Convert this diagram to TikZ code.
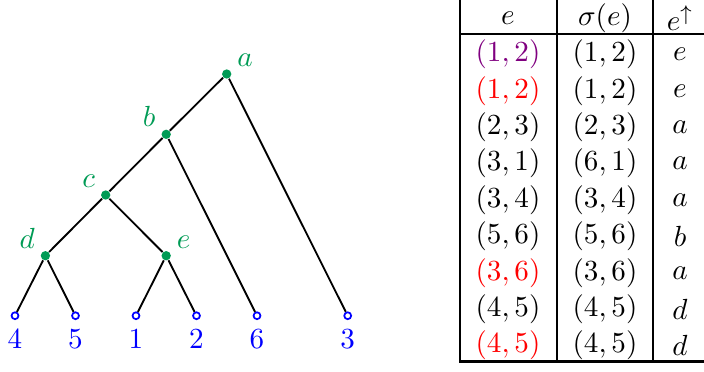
\documentclass[tikz,border=0pt]{standalone}
\usepackage{amsmath,amssymb}
\usepackage{xcolor}
\usepackage{tikz}
\usetikzlibrary{positioning}
\definecolor{treegreen}{RGB}{0,155,85}
\definecolor{leafblue}{RGB}{0,0,255}
\definecolor{swappurple}{RGB}{128,0,128}
\definecolor{badred}{RGB}{255,0,0}

\begin{document}
\begin{tikzpicture}[
  x=0.01322cm, y=-0.01322cm,
  font=\fontsize{11}{13}\selectfont,
  inner/.style={circle, fill=treegreen, inner sep=0pt, minimum size=3.5pt},
  leaf/.style={circle, draw=leafblue, line width=0.65pt, inner sep=0pt, minimum size=2.6pt},
  glabel/.style={text=treegreen, inner sep=2pt},
  blabel/.style={text=leafblue},
  branch/.style={line width=0.7pt, black},
  rule/.style={line width=0.85pt, black},
  cell/.style={inner sep=1pt}
]
\useasboundingbox (0,0) rectangle (704,371);
% tree
\node[inner, label={[glabel]20:$a$}] (a) at (226.7,74) {};
\node[inner, label={[glabel]160:$b$}] (b) at (166.2,134.3) {};
\node[inner, label={[glabel]160:$c$}] (c) at (105.7,195) {};
\node[inner, label={[glabel]160:$d$}] (d) at (45.4,255.7) {};
\node[inner, label={[glabel]20:$e$}] (e) at (166.2,255.7) {};
\node[leaf, label={[blabel]below:$4$}] (l4) at (15,315.7) {};
\node[leaf, label={[blabel]below:$5$}] (l5) at (75.5,315.7) {};
\node[leaf, label={[blabel]below:$1$}] (l1) at (136,315.7) {};
\node[leaf, label={[blabel]below:$2$}] (l2) at (196.5,315.7) {};
\node[leaf, label={[blabel]below:$6$}] (l6) at (257,315.7) {};
\node[leaf, label={[blabel]below:$3$}] (l3) at (347.7,315.7) {};
\draw[branch] (a) -- (b);
\draw[branch] (a) -- (l3);
\draw[branch] (b) -- (c);
\draw[branch] (b) -- (l6);
\draw[branch] (c) -- (d);
\draw[branch] (c) -- (e);
\draw[branch] (d) -- (l4);
\draw[branch] (d) -- (l5);
\draw[branch] (e) -- (l1);
\draw[branch] (e) -- (l2);
% table
\node[cell] (hE) at (508,18) {$e$};
\node[cell] (hS) at (605,18) {$\sigma(e)$};
\node[cell] (hU) at (680,18) {$e^{\uparrow}$};
\foreach \pr/\sg/\up/\col [count=\i] in {
  {(1,2)}/{(1,2)}/e/swappurple,
  {(1,2)}/{(1,2)}/e/badred,
  {(2,3)}/{(2,3)}/a/black,
  {(3,1)}/{(6,1)}/a/black,
  {(3,4)}/{(3,4)}/a/black,
  {(5,6)}/{(5,6)}/b/black,
  {(3,6)}/{(3,6)}/a/badred,
  {(4,5)}/{(4,5)}/d/black,
  {(4,5)}/{(4,5)}/d/badred}
{
  \node[cell, text=\col] (r\i e) at (508,18+36.4*\i) {$\pr$};
  \node[cell] (r\i s) at (605,18+36.4*\i) {$\sg$};
  \node[cell] (r\i u) at (680,18+36.4*\i) {$\up$};
}
\draw[rule] (460,0) -- (460,361.5) -- (704,361.5);
\draw[rule] (460,34) -- (704,34);
\draw[rule] (557,0) -- (557,361.5);
\draw[rule] (653,0) -- (653,361.5);
\end{tikzpicture}
\end{document}
